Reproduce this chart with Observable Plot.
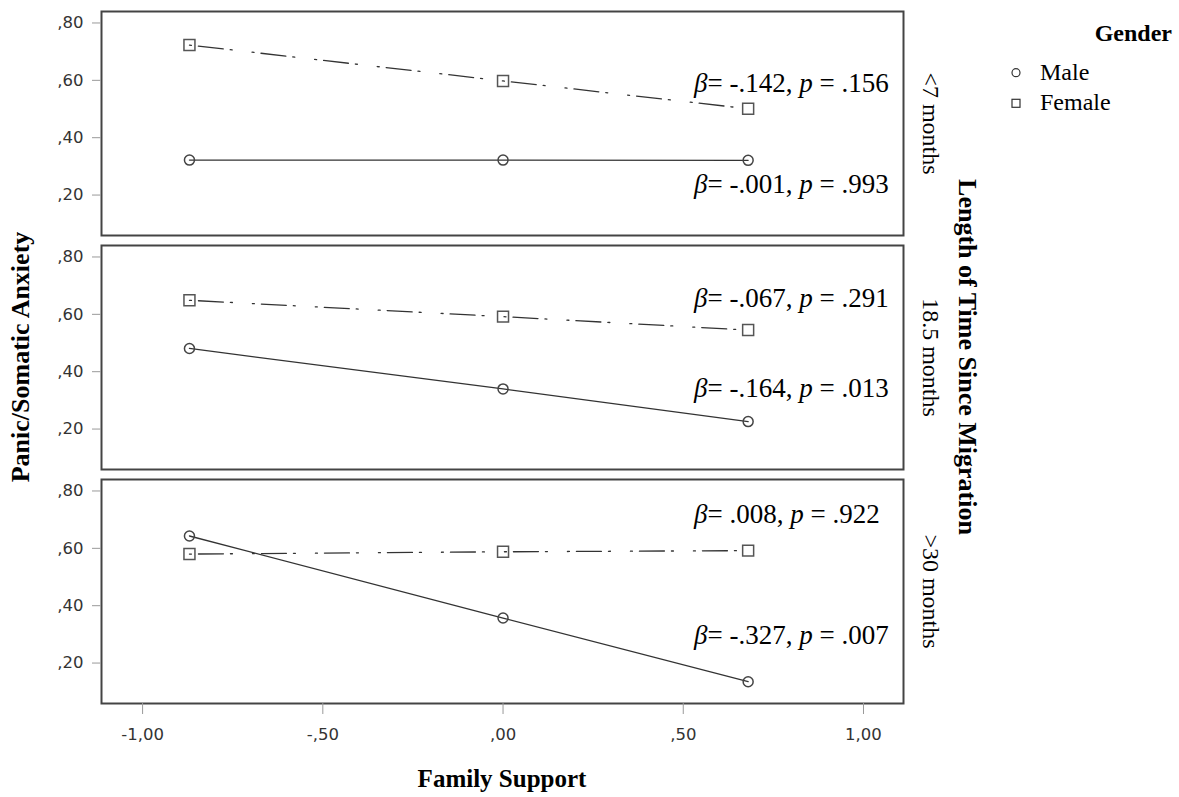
<!DOCTYPE html>
<html><head><meta charset="utf-8">
<script src="https://cdn.jsdelivr.net/npm/d3@7"></script>
<script src="https://cdn.jsdelivr.net/npm/@observablehq/plot@0.6"></script>
<style>
html,body{margin:0;padding:0;background:#fff;}
#chart{position:relative;width:1179px;height:797px;}
</style></head><body><div id="chart"></div>
<script>
// ---- data ----
const periods = ["<7 months", "18.5 months", ">30 months"];
const genders = ["Male", "Female"];
const familySupport = [-0.87, 0, 0.68];
const maleAnxiety = [[0.322, 0.322, 0.321], [0.481, 0.340, 0.226], [0.643, 0.357, 0.135]];
const femaleAnxiety = [[0.723, 0.598, 0.501], [0.649, 0.592, 0.545], [0.580, 0.588, 0.592]];
const maleBeta = ["-.001", "-.164", "-.327"];
const maleP = [".993", ".013", ".007"];
const femaleBeta = ["-.142", "-.067", ".008"];
const femaleP = [".156", ".291", ".922"];
const xTicks = [-1, -0.5, 0, 0.5, 1];
const yTicks = [0.2, 0.4, 0.6, 0.8];
const xTitle = "Family Support";
const yTitle = "Panic/Somatic Anxiety";
const facetTitle = "Length of Time Since Migration";
const legendTitle = "Gender";

// ---- build tables ----
const maleRows = [], femaleRows = [];
periods.forEach((p, i) => familySupport.forEach((x, j) => {
  maleRows.push({period: p, gender: genders[0], x, y: maleAnxiety[i][j]});
  femaleRows.push({period: p, gender: genders[1], x, y: femaleAnxiety[i][j]});
}));
// annotation placement (layout only)
const statX = 0.53;
const statYFemale = [0.588, 0.654, 0.717];
const statYMale = [0.2375, 0.342, 0.297];
const stats = [];
periods.forEach((p, i) => {
  stats.push({period: p, ty: statYFemale[i], label: `β = ${femaleBeta[i]}, p = ${femaleP[i]}`});
  stats.push({period: p, ty: statYMale[i], label: `β = ${maleBeta[i]}, p = ${maleP[i]}`});
});

const fmt = d => {
  const s = Math.abs(d).toFixed(2).replace(".", ",");
  const t = s.startsWith("0,") ? s.slice(1) : s;
  return (d < 0 ? "-" : "") + t;
};

const serif = "'Liberation Serif', 'Times New Roman', serif";

const plot = Plot.plot({
  width: 1179, height: 797,
  marginLeft: 101, marginRight: 276, marginTop: 10, marginBottom: 93,
  style: {fontFamily: "'DejaVu Sans', sans-serif", fontSize: "16px", color: "#333", background: "white"},
  x: {domain: [-1.114, 1.111]},
  y: {domain: [0.059, 0.84]},
  fy: {domain: periods, paddingInner: 0.043, paddingOuter: 0, axis: null, label: null},
  marks: [
    Plot.frame({stroke: "#444", strokeWidth: 2}),
    Plot.axisY({ticks: yTicks, tickFormat: fmt, tickSize: 9, tickPadding: 9, label: null, stroke: "#999", fill: "#333", fontSize: 16.5}),
    Plot.axisX({ticks: xTicks, tickFormat: fmt, tickSize: 11, tickPadding: 14, label: null, stroke: "#999", fill: "#333", fontSize: 16.5}),
    Plot.line(maleRows, {x: "x", y: "y", fy: "period", stroke: "#333", strokeWidth: 1.3}),
    Plot.line(femaleRows, {x: "x", y: "y", fy: "period", stroke: "#333", strokeWidth: 1.3, strokeDasharray: "2,7,25,7,2,20"}),
    Plot.dot(maleRows, {x: "x", y: "y", fy: "period", symbol: "circle", r: 5, stroke: "#444", strokeWidth: 1.5, fill: "none"}),
    Plot.dot(femaleRows, {x: "x", y: "y", fy: "period", symbol: "square", r: 6.2, stroke: "#555", strokeWidth: 1.5, fill: "none"}),
    Plot.text(stats, {x: () => statX, y: "ty", fy: "period", text: "label", textAnchor: "start", lineAnchor: "middle", fontSize: 27, fontFamily: serif, fill: "#000"}),
    Plot.text(periods, {fy: d => d, text: d => d, frameAnchor: "right", textAnchor: "middle", dx: 27, rotate: 90, fontSize: 24, fontFamily: serif, fill: "#000"})
  ]
});

// italicise β and p in the annotations
plot.querySelectorAll("text").forEach(t => {
  const s = t.textContent;
  if (!s.startsWith("β")) return;
  const m = s.match(/^β = (.*), p = (.*)$/);
  if (!m) return;
  while (t.firstChild) t.removeChild(t.firstChild);
  const ns = "http://www.w3.org/2000/svg";
  const it = txt => { const e = document.createElementNS(ns, "tspan"); e.setAttribute("font-style", "italic"); e.textContent = txt; return e; };
  t.appendChild(it("β"));
  t.appendChild(document.createTextNode(`= ${m[1]}, `));
  t.appendChild(it("p"));
  t.appendChild(document.createTextNode(` = ${m[2]}`));
});

const svg = d3.select(plot);
const g = svg.append("g").attr("fill", "#000").attr("text-anchor", "start");
const addText = () => g.append("text").style("font-family", serif);
addText().attr("transform", "translate(20,357) rotate(-90)").attr("text-anchor", "middle").attr("dy", "0.35em")
  .attr("font-weight", "bold").attr("font-size", 26).text(yTitle);
addText().attr("transform", "translate(968,357) rotate(90)").attr("text-anchor", "middle").attr("dy", "0.35em")
  .attr("font-weight", "bold").attr("font-size", 26).text(facetTitle);
addText().attr("x", 502).attr("y", 787).attr("text-anchor", "middle")
  .attr("font-weight", "bold").attr("font-size", 25).text(xTitle);
// legend
addText().attr("x", 1172).attr("y", 41).attr("text-anchor", "end").attr("font-weight", "bold").attr("font-size", 24).text(legendTitle);
g.append("circle").attr("cx", 1016).attr("cy", 72.7).attr("r", 4).attr("fill", "none").attr("stroke", "#333").attr("stroke-width", 1.2);
addText().attr("x", 1040).attr("y", 80).attr("text-anchor", "start").attr("font-size", 24).text(genders[0]);
g.append("rect").attr("x", 1012).attr("y", 99.3).attr("width", 8).attr("height", 8).attr("fill", "none").attr("stroke", "#333").attr("stroke-width", 1.2);
addText().attr("x", 1040).attr("y", 110).attr("text-anchor", "start").attr("font-size", 24).text(genders[1]);

document.getElementById("chart").appendChild(plot);
</script></body></html>
